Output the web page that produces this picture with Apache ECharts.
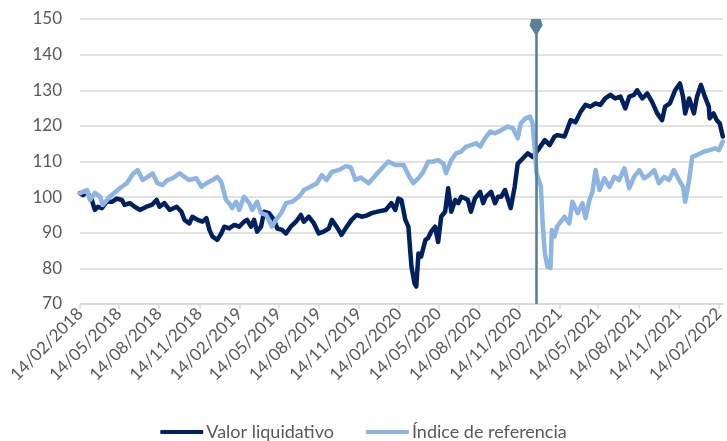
<!DOCTYPE html>
<html>
<head>
<meta charset="utf-8">
<script src="https://cdn.jsdelivr.net/npm/echarts@6/dist/echarts.min.js"></script>
<style>
html,body{margin:0;padding:0;background:#fff;}
#chart{width:727px;height:441px;}
</style>
</head>
<body>
<div id="chart"></div>
<script>
// ---- DATA ----
const startDate = '14/02/2018';
const tickLabels = ['14/02/2018','14/05/2018','14/08/2018','14/11/2018','14/02/2019','14/05/2019','14/08/2019','14/11/2019','14/02/2020','14/05/2020','14/08/2020','14/11/2020','14/02/2021','14/05/2021','14/08/2021','14/11/2021','14/02/2022'];
const yTicks = [70, 80, 90, 100, 110, 120, 130, 140, 150];
const markerDate = '23/12/2020';
const seriesNames = ['Valor liquidativo', 'Índice de referencia'];

// days since 14/02/2018
const valorDays = [0,7,16,27,34,41,50,61,73,84,96,102,114,125,137,152,164,175,182,193,205,221,232,239,250,257,269,280,289,296,303,314,323,330,341,353,364,375,382,391,398,405,414,421,432,444,451,462,471,482,494,505,512,523,535,546,557,569,576,587,598,610,621,633,644,655,667,683,699,712,721,728,735,744,751,755,758,765,769,774,780,790,796,803,812,819,826,835,842,849,858,865,872,881,887,894,903,915,922,928,940,949,956,963,972,978,985,994,1001,1013,1024,1035,1047,1063,1074,1085,1092,1108,1122,1133,1145,1156,1167,1179,1190,1201,1213,1224,1236,1247,1256,1267,1274,1286,1297,1308,1320,1331,1338,1349,1361,1372,1379,1384,1393,1404,1411,1420,1429,1438,1440,1449,1456,1463,1470];
const valorValues = [101.1,100.6,101.5,99.2,96.4,97.3,96.9,98.7,98.7,99.6,99.2,97.8,98.3,97.3,96.4,97.3,97.8,99.2,97.3,98.3,96.4,97.3,95.9,93.6,92.6,94.5,93.6,93.1,94.1,90.8,88.9,88,89.8,91.7,91.2,92.2,91.7,93.1,93.6,91.7,93.6,90.3,91.7,95.9,95.5,93.6,91.2,90.8,89.8,91.7,93.1,95,93.1,94.5,92.6,89.8,90.3,91.2,93.6,91.7,89.4,91.7,93.6,95,94.5,94.8,95.5,96,96.4,98.3,96.4,99.6,99.2,93.6,91.7,85.2,80.5,75.8,74.9,84.2,83.3,88,88.5,90.3,91.7,87.4,94.5,95.9,102.5,95.9,99.2,98.3,100.1,99.6,99.2,95.9,99.6,101.5,98.3,100.1,101.5,98.3,100.1,100.1,102,99.6,96.9,102.9,109.4,110.9,112.3,111.3,113.2,116,114.6,117,117.4,117,121.6,121,124,125.9,125.4,126.3,125.9,127.7,128.7,127.7,128.2,124.9,128.2,128.7,130,127.7,129.1,126.8,123.5,121.6,125.4,126.3,130,131.9,128.2,123.5,127.7,123.5,128.2,131.5,128.2,125.4,122.1,123.5,121.6,120.7,117];

const indiceDays = [0,16,23,34,46,52,68,91,107,121,132,143,155,166,177,189,200,212,228,239,250,266,278,289,303,314,323,334,341,348,357,364,375,387,394,405,414,426,439,448,460,471,485,501,512,528,542,553,564,576,592,608,619,630,642,660,683,705,721,740,751,762,774,785,796,808,819,831,837,849,860,872,883,894,906,915,926,938,949,963,978,990,1001,1008,1019,1029,1035,1040,1044,1054,1058,1063,1069,1076,1079,1085,1092,1099,1108,1119,1126,1138,1149,1156,1165,1172,1179,1188,1199,1211,1222,1233,1245,1256,1267,1279,1290,1302,1313,1324,1336,1347,1358,1370,1379,1384,1393,1400,1411,1427,1440,1452,1461,1470];
const indiceValues = [101.1,102,99.2,101.2,100.1,97.8,100.1,102.5,103.9,106.5,107.6,104.8,105.7,106.7,103.9,103.4,104.8,105.3,106.7,105.7,104.8,105.3,102.9,103.9,104.8,105.7,104.3,99.2,98.3,96.9,98.7,96.4,100.1,98.3,96.4,98.7,95.5,95,91.7,93.6,95.5,98.3,98.7,100.1,102,103,103.9,106.2,104.8,107.1,107.6,108.7,108.4,104.8,105.5,103.9,107.1,110,109,109,106.2,103.9,105.3,107.1,109.9,110,110.4,109.4,106.7,110.4,112.3,112.8,114.2,114.6,115.1,114.2,116.5,118.4,117.9,118.8,119.8,119.3,116.5,120.7,122.1,122.6,120.7,113.2,106.7,102.9,92.6,84.2,80.5,80.1,90.8,89,92,93,94.5,92.6,98.7,95.5,98.3,94.1,99.2,101.5,107.6,102,105.3,102.9,105.7,104.8,108.1,102.5,105.7,107.6,105.3,106.2,107.6,103.9,105.7,104.8,107.6,104.8,102.9,98.7,104.8,111.3,111.8,112.8,113.2,113.7,113.2,115.6];

// ---- helpers ----
function dayOf(str) {
  const p = str.split('/');
  const s = startDate.split('/');
  return Math.round((Date.UTC(+p[2], +p[1]-1, +p[0]) - Date.UTC(+s[2], +s[1]-1, +s[0])) / 86400000);
}
const tickDays = tickLabels.map(dayOf);
const labelByDay = {};
tickDays.forEach((d, i) => { labelByDay[d] = tickLabels[i]; });
const markerDay = dayOf(markerDate);
const zip = (a, b) => a.map((d, i) => [d, b[i]]);

const FONT = 'Lato';
const DARK = '#012060';
const LIGHT = '#8DB4E2';
const MARK = '#5A7F97';
const chart = echarts.init(document.getElementById('chart'), null, {renderer: 'canvas'});
chart.setOption({
  animation: false,
  backgroundColor: '#ffffff',
  grid: {left: 80, right: 1, top: 19, bottom: 137, containLabel: false},
  xAxis: {
    type: 'value',
    min: 0,
    max: 1470,
    axisLine: {show: true, lineStyle: {color: '#d9d9d9', width: 1.5}},
    axisTick: {show: true, length: 5, lineStyle: {color: '#d9d9d9', width: 1.5}, customValues: tickDays},
    axisLabel: {
      customValues: tickDays,
      rotate: 45,
      margin: 7,
      color: '#595959',
      fontFamily: FONT,
      fontSize: 17,
      formatter: v => labelByDay[Math.round(v)] || ''
    },
    splitLine: {show: false}
  },
  yAxis: {
    type: 'value',
    min: 70,
    max: 150,
    interval: 10,
    axisLine: {show: false},
    axisTick: {show: false},
    axisLabel: {color: '#595959', fontFamily: FONT, fontSize: 17, margin: 18,
      formatter: v => (yTicks.indexOf(v) >= 0 ? String(v) : '')},
    splitLine: {show: true, lineStyle: {color: '#d9d9d9', width: 1.5}}
  },
  legend: {
    left: 'center',
    top: 423,
    padding: 0,
    data: [
      {name: seriesNames[0], icon: 'roundRect', itemStyle: {color: DARK}},
      {name: seriesNames[1], icon: 'roundRect', itemStyle: {color: LIGHT}}
    ],
    itemWidth: 43,
    itemHeight: 4,
    itemGap: 32,
    textStyle: {color: '#595959', fontFamily: FONT, fontSize: 18, padding: [0, 0, 0, -2]},
    selectedMode: false
  },
  series: [
    {
      name: seriesNames[0],
      type: 'line',
      data: zip(valorDays, valorValues),
      symbol: 'none',
      showSymbol: false,
      lineStyle: {color: DARK, width: 4.5, join: 'round', cap: 'round'},
      itemStyle: {color: DARK},
      silent: true,
      z: 2
    },
    {
      name: seriesNames[1],
      type: 'line',
      data: zip(indiceDays, indiceValues),
      symbol: 'none',
      showSymbol: false,
      lineStyle: {color: LIGHT, width: 4.5, join: 'round', cap: 'round'},
      itemStyle: {color: LIGHT},
      silent: true,
      z: 3,
      markLine: {
        silent: true,
        animation: false,
        symbol: ['none', 'none'],
        label: {show: false},
        emphasis: {disabled: true},
        lineStyle: {color: MARK, width: 2.6, type: 'solid'},
        data: [[{coord: [markerDay, 70]}, {coord: [markerDay, 147.6]}]]
      }
    },
    {
      name: 'marker',
      type: 'scatter',
      data: [[markerDay, 147.6]],
      symbol: 'path://M1.5,0 L9.5,0 L11,6 L5.5,16 L0,6 Z',
      symbolSize: [13, 17],
      symbolKeepAspect: false,
      itemStyle: {color: MARK, opacity: 1},
      silent: true,
      z: 5
    }
  ]
});
</script>
</body>
</html>
